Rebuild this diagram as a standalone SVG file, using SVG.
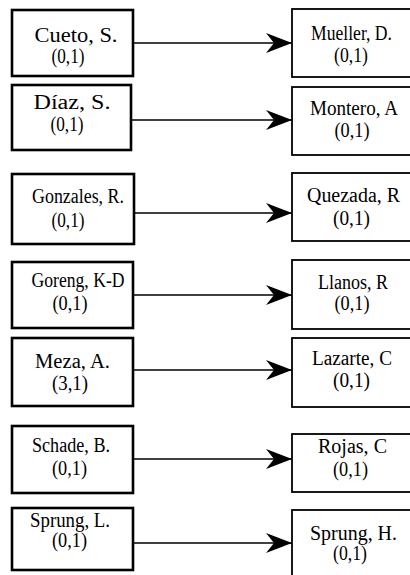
<svg xmlns="http://www.w3.org/2000/svg" width="410" height="575" viewBox="0 0 410 575">
<style>
.bg{fill:#fff}
.lbox{fill:#fff;stroke:#000;stroke-width:2.6}
.rbox{fill:#fff;stroke:#000;stroke-width:1.8}
.t{font-family:"Liberation Serif","Times New Roman",serif;font-size:20px;fill:#000;text-anchor:middle}
.conn{stroke:#000;stroke-width:1.5;fill:none;marker-end:url(#ah)}
</style>
<defs>
<marker id="ah" markerUnits="userSpaceOnUse" markerWidth="27" markerHeight="22" refX="26" refY="11" orient="auto" overflow="visible">
<path d="M0,1 L26,11 L0,21 L8,11 Z" fill="#000"/>
</marker>
</defs>
<rect class="bg" width="410" height="575"/>

<g id="n-cueto"><rect class="lbox" x="12" y="10" width="121" height="66"/>
<text class="t" x="76" y="42" textLength="83" lengthAdjust="spacingAndGlyphs">Cueto, S.</text>
<text class="t" x="68" y="63" textLength="33" lengthAdjust="spacingAndGlyphs">(0,1)</text></g>
<g id="n-diaz"><rect class="lbox" x="12" y="85" width="119" height="65"/>
<text class="t" x="72" y="109" textLength="77" lengthAdjust="spacingAndGlyphs">Díaz, S.</text>
<text class="t" x="67" y="131" textLength="33" lengthAdjust="spacingAndGlyphs">(0,1)</text></g>
<g id="n-gonzales"><rect class="lbox" x="12" y="174" width="122" height="70"/>
<text class="t" x="78" y="203" textLength="92" lengthAdjust="spacingAndGlyphs">Gonzales, R.</text>
<text class="t" x="68" y="227" textLength="33" lengthAdjust="spacingAndGlyphs">(0,1)</text></g>
<g id="n-goreng"><rect class="lbox" x="12" y="262" width="121" height="66"/>
<text class="t" x="78" y="287" textLength="93" lengthAdjust="spacingAndGlyphs">Goreng, K-D</text>
<text class="t" x="70" y="310" textLength="35" lengthAdjust="spacingAndGlyphs">(0,1)</text></g>
<g id="n-meza"><rect class="lbox" x="12" y="338" width="121" height="68"/>
<text class="t" x="72.5" y="368" textLength="75" lengthAdjust="spacingAndGlyphs">Meza, A.</text>
<text class="t" x="70" y="390" textLength="36" lengthAdjust="spacingAndGlyphs">(3,1)</text></g>
<g id="n-schade"><rect class="lbox" x="12" y="426" width="121" height="67"/>
<text class="t" x="71" y="452" textLength="78" lengthAdjust="spacingAndGlyphs">Schade, B.</text>
<text class="t" x="69.5" y="475" textLength="35" lengthAdjust="spacingAndGlyphs">(0,1)</text></g>
<g id="n-sprungl"><rect class="lbox" x="12" y="508" width="121" height="62"/>
<text class="t" x="70" y="527" textLength="80" lengthAdjust="spacingAndGlyphs">Sprung, L.</text>
<text class="t" x="69.5" y="547" textLength="35" lengthAdjust="spacingAndGlyphs">(0,1)</text></g>

<g id="n-mueller"><rect class="rbox" x="292" y="9" width="130" height="68"/>
<text class="t" x="351.5" y="40" textLength="81" lengthAdjust="spacingAndGlyphs">Mueller, D.</text>
<text class="t" x="351" y="62" textLength="34" lengthAdjust="spacingAndGlyphs">(0,1)</text></g>
<g id="n-montero"><rect class="rbox" x="292" y="87" width="130" height="68"/>
<text class="t" x="354" y="115" textLength="88" lengthAdjust="spacingAndGlyphs">Montero, A</text>
<text class="t" x="352" y="137" textLength="35" lengthAdjust="spacingAndGlyphs">(0,1)</text></g>
<g id="n-quezada"><rect class="rbox" x="292" y="173" width="130" height="68"/>
<text class="t" x="353.5" y="202" textLength="93" lengthAdjust="spacingAndGlyphs">Quezada, R</text>
<text class="t" x="351.5" y="225" textLength="37" lengthAdjust="spacingAndGlyphs">(0,1)</text></g>
<g id="n-llanos"><rect class="rbox" x="292" y="260" width="130" height="69"/>
<text class="t" x="353" y="289" textLength="70" lengthAdjust="spacingAndGlyphs">Llanos, R</text>
<text class="t" x="352" y="310" textLength="35" lengthAdjust="spacingAndGlyphs">(0,1)</text></g>
<g id="n-lazarte"><rect class="rbox" x="292" y="338" width="130" height="69"/>
<text class="t" x="352" y="365" textLength="80" lengthAdjust="spacingAndGlyphs">Lazarte, C</text>
<text class="t" x="351.5" y="387" textLength="37" lengthAdjust="spacingAndGlyphs">(0,1)</text></g>
<g id="n-rojas"><rect class="rbox" x="292" y="434" width="130" height="58"/>
<text class="t" x="352.5" y="453" textLength="69" lengthAdjust="spacingAndGlyphs">Rojas, C</text>
<text class="t" x="350.5" y="476" textLength="35" lengthAdjust="spacingAndGlyphs">(0,1)</text></g>
<g id="n-sprungh"><rect class="rbox" x="292" y="510" width="130" height="80"/>
<text class="t" x="353.5" y="540" textLength="87" lengthAdjust="spacingAndGlyphs">Sprung, H.</text>
<text class="t" x="350" y="560" textLength="34" lengthAdjust="spacingAndGlyphs">(0,1)</text></g>

<g id="connectors">
<line class="conn" x1="133" y1="43" x2="292" y2="43"/>
<line class="conn" x1="131" y1="120" x2="292" y2="120"/>
<line class="conn" x1="134" y1="213" x2="292" y2="213"/>
<line class="conn" x1="133" y1="295" x2="292" y2="295"/>
<line class="conn" x1="133" y1="370" x2="292" y2="370"/>
<line class="conn" x1="133" y1="459" x2="292" y2="459"/>
<line class="conn" x1="133" y1="543" x2="292" y2="543"/>
</g>
</svg>
